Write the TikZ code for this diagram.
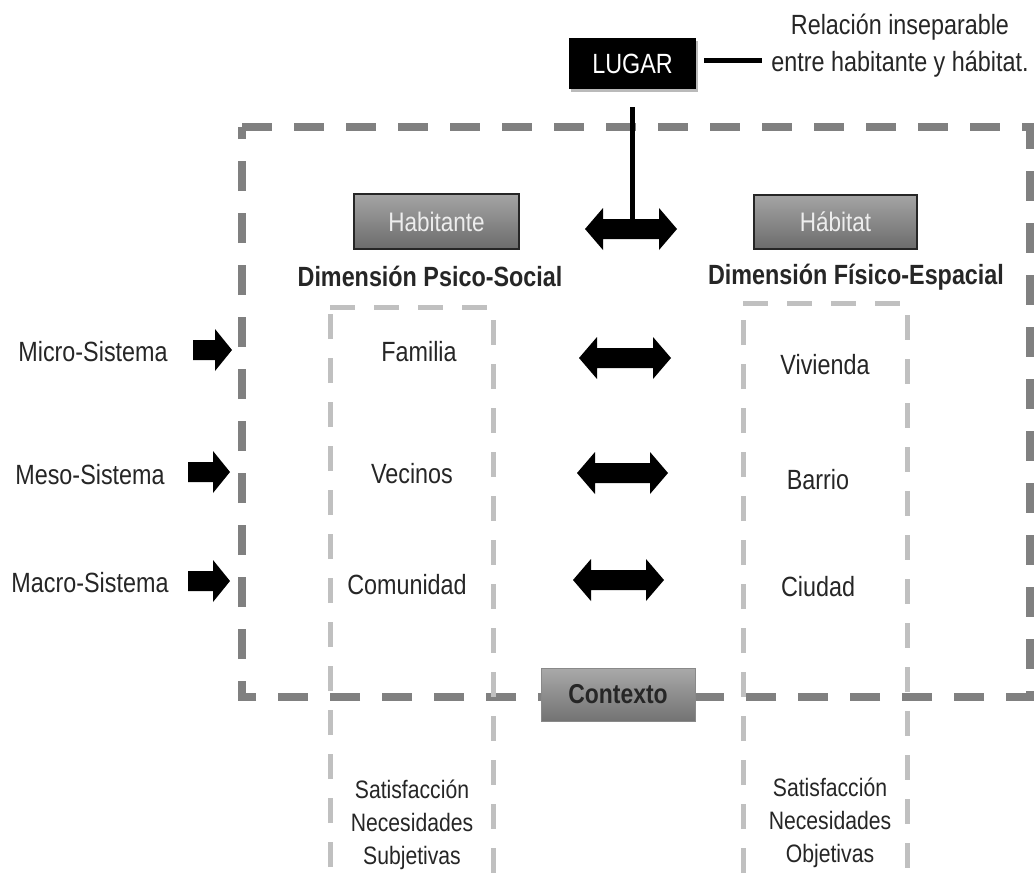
\documentclass[tikz,border=0pt]{standalone}
\usepackage{fontspec}
\setmainfont{Liberation Sans}[FakeStretch=0.84]
\usetikzlibrary{shadows}
\definecolor{txt}{HTML}{262626}
\definecolor{outerc}{HTML}{808080}
\definecolor{innerc}{HTML}{C0C0C0}
\definecolor{boxtop}{HTML}{A4A4A4}
\definecolor{boxbot}{HTML}{6C6C6C}
\newcommand{\dblarr}[3]{%
  \fill[black] (#1,#3) -- (#1+18,#3-21) -- (#1+18,#3-10) -- (#2-18,#3-10) -- (#2-18,#3-21)
   -- (#2,#3) -- (#2-18,#3+21) -- (#2-18,#3+10) -- (#1+18,#3+10) -- (#1+18,#3+21) -- cycle;}
\newcommand{\sglarr}[3]{%
  \fill[black] (#1,#3-10) -- (#2-17,#3-10) -- (#2-17,#3-21) -- (#2,#3)
   -- (#2-17,#3+21) -- (#2-17,#3+10) -- (#1,#3+10) -- cycle;}
\begin{document}
\begin{tikzpicture}[x=1pt,y=-1pt,
  lbl/.style={text=txt, font=\fontsize{27.8}{32}\selectfont, inner sep=0pt},
  ttl/.style={text=txt, font=\bfseries\fontsize{27.8}{32}\selectfont, inner sep=0pt},
  small/.style={text=txt, font=\fontsize{25.2}{33}\selectfont, inner sep=0pt, align=center},
  graybox/.style={draw=txt, line width=1.5pt, top color=boxtop, bottom color=boxbot,
    minimum width=165pt, minimum height=55pt, text=white!93!black,
    font=\fontsize{26.8}{31}\selectfont, inner sep=0pt},
  outerdash/.style={draw=outerc, line width=8pt, dash pattern=on 30pt off 22pt},
  innerdash/.style={draw=innerc, line width=5pt, dash pattern=on 25pt off 19pt},
  conn/.style={draw=black, line width=5pt}
]
\useasboundingbox (0,0) rectangle (1035,879);
\fill[white] (0,0) rectangle (1035,879);

% outer dashed frame
\draw[outerdash] (242,127) -- (1030,127) -- (1030,697) -- (242,697) -- cycle;

% inner dashed frames
\draw[innerdash] (330,307) -- (493,307) -- (493,886) -- (330,886) -- cycle;
\draw[innerdash] (743,303) -- (907,303) -- (907,886) -- (743,886) -- cycle;

% Contexto
\node[draw=boxbot!80!white, line width=0.8pt, top color=boxtop!95!white, bottom color=boxbot!95!white,
  minimum width=154pt, minimum height=53pt, inner sep=0pt, text=txt,
  font=\bfseries\fontsize{27.3}{31}\selectfont] (ctx) at (618,694.5) {Contexto};

% LUGAR
\node[fill=black, text=white, minimum width=127pt, minimum height=51pt, inner sep=0pt,
  font=\fontsize{27.8}{32}\selectfont,
  drop shadow={shadow xshift=2pt, shadow yshift=-3pt, opacity=0.45, fill=black!60}] (lugar) at (632.5,63.5) {LUGAR};
\node[lbl, align=center, font=\fontsize{27.8}{37}\selectfont] (rel) at (900,46) {Relación inseparable\\entre habitante y hábitat.};
\draw[conn] ([xshift=8pt,yshift=3.5pt]lugar.east) -- ([xshift=-9pt,yshift=3.5pt]rel.west |- lugar.east);

% top boxes
\node[graybox] (hab) at (436.5,221.5) {Habitante};
\node[graybox, minimum width=163pt, minimum height=54pt] (habt) at (835.5,222) {Hábitat};
\node[ttl] (dps) at (430,276) {Dimensión Psico-Social};
\node[ttl] (dfe) at (856,277) {Dimensión Físico-Espacial};

\coordinate (ta) at (632.5,222);
\draw[conn] ([yshift=-18pt]lugar.south) -- (lugar.south |- ta);
\dblarr{585}{677}{229}

% levels
\node[lbl] (micro) at (93,352) {Micro-Sistema};
\node[lbl] (meso) at (90,475) {Meso-Sistema};
\node[lbl] (macro) at (90,583) {Macro-Sistema};
\sglarr{193}{232}{350}
\sglarr{188}{230}{472}
\sglarr{188}{230}{581}

\node[lbl] (fam) at (419,352) {Familia};
\node[lbl] (vec) at (412,474) {Vecinos};
\node[lbl] (com) at (407,585) {Comunidad};
\node[lbl] (viv) at (825,365) {Vivienda};
\node[lbl] (bar) at (818,480) {Barrio};
\node[lbl] (ciu) at (818,587) {Ciudad};

\dblarr{579}{671}{358}
\dblarr{577}{668}{473}
\dblarr{573}{664}{580}

% bottom texts
\node[small] (subj) at (412,825) {Satisfacción\\Necesidades\\Subjetivas};
\node[small] (obj) at (830,823) {Satisfacción\\Necesidades\\Objetivas};
\end{tikzpicture}
\end{document}
